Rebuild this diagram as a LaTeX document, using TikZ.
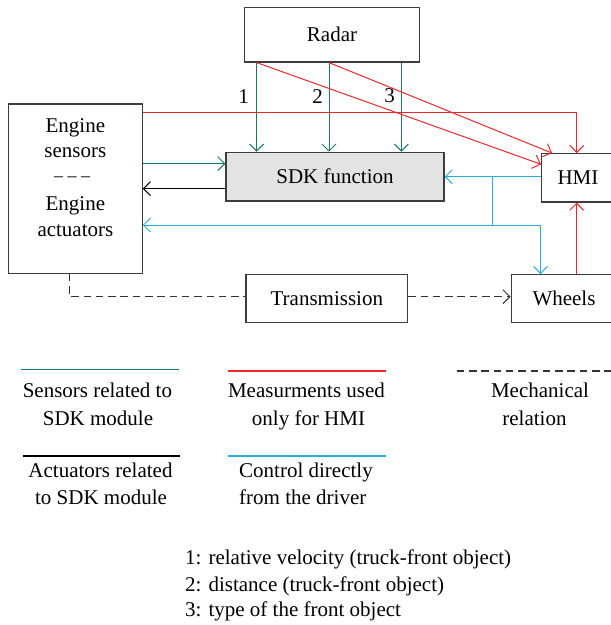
\documentclass[tikz,border=0pt]{standalone}
\usepackage{fontspec}
\setmainfont{Liberation Serif}
\usetikzlibrary{arrows.meta}
\definecolor{cgreen}{RGB}{27,120,96}
\definecolor{cred}{RGB}{232,40,45}
\definecolor{cblue}{RGB}{40,170,225}
\definecolor{cgray}{RGB}{226,227,226}
\definecolor{cborder}{RGB}{60,60,60}
\tikzset{
  box/.style={draw=cborder, line width=1.2pt, fill=white, inner sep=0pt, font=\fontsize{21}{26.5}\selectfont},
  txt/.style={inner sep=0pt, anchor=base, font=\fontsize{21}{26.5}\selectfont},
  tipv/.style={-{Straight Barb[length=7pt,width=14pt]}},
  gline/.style={draw=cgreen, line width=1pt},
  rline/.style={draw=cred, line width=1pt},
  bline/.style={draw=cblue, line width=1pt},
  kline/.style={draw=black, line width=1pt},
  mline/.style={draw=black!80, line width=1pt, dash pattern=on 7.5pt off 4.8pt},
  legw/.style={line width=1.6pt},
}
\begin{document}
\begin{tikzpicture}[x=1pt,y=-1pt]
\useasboundingbox (0,0) rectangle (611,625);
% boxes
\node[box, minimum width=175.4pt, minimum height=54.7pt] (radar) at (332,34.65) {Radar};
\node[box, minimum width=133.6pt, minimum height=169.3pt] (engine) at (75.4,188.65) {};
\node[box, fill=cgray, minimum width=217.9pt, minimum height=48.7pt] (sdk) at (335,176.65) {SDK function};
\node[box, minimum width=72.6pt, minimum height=48.3pt] (hmi) at (578,177.85) {HMI};
\node[box, minimum width=161.6pt, minimum height=48pt] (trans) at (326.8,298.7) {Transmission};
\node[box, minimum width=105.4pt, minimum height=48pt] (wheels) at (564,298.7) {Wheels};
% engine box text
\node[txt] (e1) at (75.4,132.3) {Engine};
\node[txt] (e2) at (75.4,157.7) {sensors};
\node[txt, font=\fontsize{18}{22}\selectfont] (e3) at (72.2,181) {– – –};
\node[txt] (e4) at (75.4,210) {Engine};
\node[txt] (e5) at (75.4,236.7) {actuators};
% radar -> SDK (green)
\draw[gline, tipv] ([xshift=-75.3pt]radar.south) -- ([xshift=-75.3pt]radar.south |- sdk.north)
  node[pos=0.376, xshift=-13pt, font=\fontsize{21}{26.5}\selectfont, inner sep=0pt] (l1) {1};
\draw[gline, tipv] ([xshift=-3pt]radar.south) -- ([xshift=-3pt]radar.south |- sdk.north)
  node[pos=0.376, xshift=-11.4pt, font=\fontsize{21}{26.5}\selectfont, inner sep=0pt] (l2) {2};
\draw[gline, tipv] ([xshift=69.3pt]radar.south) -- ([xshift=69.3pt]radar.south |- sdk.north)
  node[pos=0.376, xshift=-11.6pt, font=\fontsize{21}{26.5}\selectfont, inner sep=0pt] (l3) {3};
% radar -> HMI (red)
\draw[rline, tipv] ([xshift=-75.3pt]radar.south) -- ([yshift=13.5pt]hmi.west);
\draw[rline, tipv] ([xshift=-3pt]radar.south) -- ([xshift=11pt]hmi.north west);
% engine -> HMI (red)
\draw[rline, tipv] ([yshift=-8.7pt]engine.north east) -| ([xshift=-1.3pt]hmi.north);
% wheels -> HMI (red)
\draw[rline, tipv] ([xshift=-1.3pt]hmi.south |- wheels.north) -- ([xshift=-1.3pt]hmi.south);
% engine <-> SDK
\coordinate (eg) at ([yshift=-60.3pt]engine.north east);
\coordinate (sk) at ([yshift=-12pt]sdk.west);
\draw[gline, tipv] (eg) -- (sdk.west |- eg);
\draw[kline, tipv] (sk) -- (engine.east |- sk);
% blue driver control
\coordinate (bj) at (492.2,176.7);
\coordinate (bk) at (492.2,225);
\coordinate (bw) at (540.5,225);
\draw[bline, tipv] (hmi.west |- bj) -- (sdk.east |- bj);
\draw[bline] (bj) -- (bk);
\draw[bline, tipv] (bw) -- (engine.east |- bw);
\draw[bline, tipv] (bw) -- (bw |- wheels.north);
% mechanical (dashed)
\draw[mline] ([xshift=-6pt]engine.south) |- ([yshift=2pt]trans.west);
\draw[mline, tipv] ([yshift=2pt]trans.east) -- ([yshift=2pt]wheels.west);
% legend
\coordinate (lg1a) at (20.7,369.3); \coordinate (lg1b) at (178.5,369.3);
\coordinate (lg2a) at (228,370.7); \coordinate (lg2b) at (385.8,370.7);
\coordinate (lg3a) at (456.7,370.7); \coordinate (lg3b) at (615,370.7);
\coordinate (lg4a) at (22.6,455.7); \coordinate (lg4b) at (180,455.7);
\coordinate (lg5a) at (228,455.7); \coordinate (lg5b) at (385.8,455.7);
\draw[gline, legw] (lg1a) -- (lg1b);
\draw[rline, legw] (lg2a) -- (lg2b);
\draw[mline, legw] (lg3a) -- (lg3b);
\draw[kline, legw] (lg4a) -- (lg4b);
\draw[bline, legw] (lg5a) -- (lg5b);
\node[txt] (t1a) at (97.4,397.7) {Sensors related to};
\node[txt] (t1b) at (98,425) {SDK module};
\node[txt] (t2a) at (306.5,397.7) {Measurments used};
\node[txt] (t2b) at (308.5,425) {only for HMI};
\node[txt] (t3a) at (540,397.7) {Mechanical};
\node[txt] (t3b) at (534.5,425) {relation};
\node[txt] (t4a) at (100.5,477.7) {Actuators related};
\node[txt] (t4b) at (101,504.3) {to SDK module};
\node[txt, anchor=base west] (t5a) at (239,477.7) {Control directly};
\node[txt, anchor=base west] (t5b) at (239,504.3) {from the driver};
\node[txt, anchor=base west] (f1) at (185,564.3) {1: relative velocity (truck-front object)};
\node[txt, anchor=base west] (f2) at (185,591) {2: distance (truck-front object)};
\node[txt, anchor=base west] (f3) at (185,616.7) {3: type of the front object};
\end{tikzpicture}
\end{document}
